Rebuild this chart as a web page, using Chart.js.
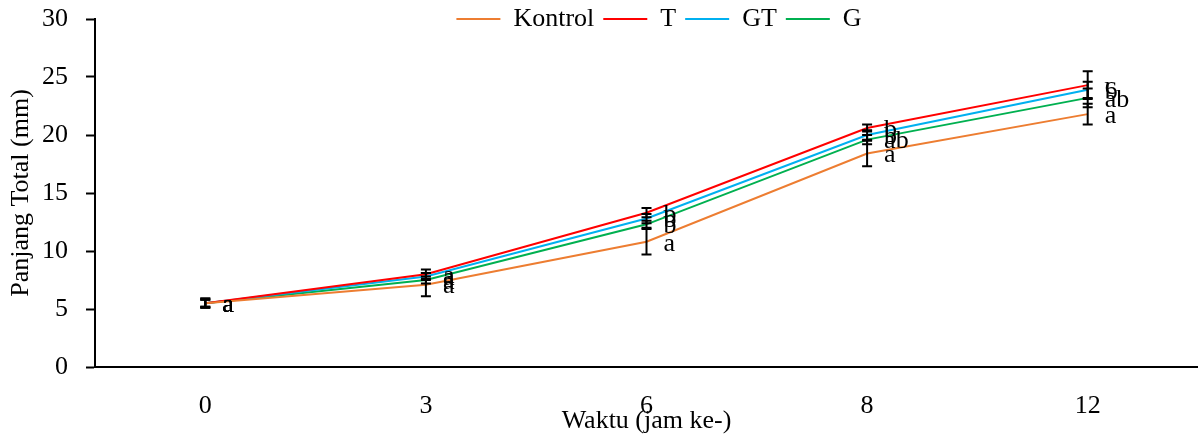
<!DOCTYPE html>
<html>
<head>
<meta charset="utf-8">
<script src="https://cdn.jsdelivr.net/npm/chart.js@4.4.1/dist/chart.umd.min.js"></script>
<style>
  html, body { margin: 0; padding: 0; background: #fff; }
  #wrap { width: 1198px; height: 439px; }
</style>
</head>
<body>
<div id="wrap"><canvas id="c" width="1198" height="439"></canvas></div>
<script>
// ---- data ----
const categories = ['0', '3', '6', '8', '12'];
const seriesNames = ['Kontrol', 'T', 'GT', 'G'];
const kontrolValues = [5.5, 7.1, 10.8, 18.4, 21.8];
const tValues       = [5.5, 8.0, 13.3, 20.6, 24.3];
const gtValues      = [5.5, 7.8, 12.8, 20.0, 23.9];
const gValues       = [5.5, 7.5, 12.3, 19.6, 23.2];
const kontrolErrors = [0.4, 1.0, 1.1, 1.1, 0.9];
const tErrors       = [0.4, 0.4, 0.4, 0.3, 1.2];
const gtErrors      = [0.3, 0.3, 0.4, 0.4, 0.7];
const gErrors       = [0.3, 0.3, 0.3, 0.4, 0.8];
const kontrolLetters = ['a', 'a', 'a', 'a', 'a'];
const tLetters       = ['a', 'a', 'b', 'b', 'c'];
const gtLetters      = ['a', 'a', 'b', 'b', 'b'];
const gLetters       = ['a', 'a', 'b', 'ab', 'ab'];
const yTicks = [0, 5, 10, 15, 20, 25, 30];

const FONT = "'Liberation Serif', 'Times New Roman', serif";
const FS = 26;
Chart.defaults.font.family = FONT;
Chart.defaults.color = '#000';

const colors = ['#ED7D31', '#FF0000', '#00B0F0', '#00B050'];
const allValues = [kontrolValues, tValues, gtValues, gValues];
const allErrors = [kontrolErrors, tErrors, gtErrors, gErrors];
const allLetters = [kontrolLetters, tLetters, gtLetters, gLetters];

const datasets = seriesNames.map((name, i) => ({
  label: name,
  data: allValues[i],
  errors: allErrors[i],
  letters: allLetters[i],
  borderColor: colors[i],
  backgroundColor: colors[i],
  borderWidth: 2,
  pointRadius: 0,
  pointHoverRadius: 0,
  tension: 0,
  fill: false
}));

const errorBarsPlugin = {
  id: 'errorBars',
  afterDatasetsDraw(chart) {
    const ctx = chart.ctx, xs = chart.scales.x, ys = chart.scales.y;
    ctx.save();
    ctx.strokeStyle = '#000';
    ctx.lineWidth = 2;
    chart.data.datasets.forEach(ds => {
      ds.data.forEach((v, i) => {
        const px = xs.getPixelForValue(i);
        const t = ys.getPixelForValue(v + ds.errors[i]);
        const b = ys.getPixelForValue(v - ds.errors[i]);
        ctx.beginPath();
        ctx.moveTo(px, t); ctx.lineTo(px, b);
        ctx.moveTo(px - 5, t); ctx.lineTo(px + 5, t);
        ctx.moveTo(px - 5, b); ctx.lineTo(px + 5, b);
        ctx.stroke();
      });
    });
    ctx.restore();
  }
};

const lettersPlugin = {
  id: 'letters',
  afterDatasetsDraw(chart) {
    const ctx = chart.ctx, xs = chart.scales.x, ys = chart.scales.y;
    ctx.save();
    ctx.fillStyle = '#000';
    ctx.font = FS + 'px ' + FONT;
    ctx.textAlign = 'left';
    ctx.textBaseline = 'middle';
    chart.data.datasets.forEach(ds => {
      ds.data.forEach((v, i) => {
        ctx.fillText(ds.letters[i], xs.getPixelForValue(i) + 17, ys.getPixelForValue(v) + 2);
      });
    });
    ctx.restore();
  }
};

const LEG_PAD = 9;
const legendTweak = {
  id: 'legendTweak',
  beforeLayout(chart) {
    const lg = chart.legend;
    if (lg && !lg._patched) {
      const f = lg.fit;
      lg.fit = function () { f.call(this); this.height = 19; };
      lg._patched = true;
    }
  },
  afterLayout(chart) {
    const lg = chart.legend;
    if (lg) {
      lg.top = 19 - FS / 2 - LEG_PAD;
      lg.bottom = 50;
      lg.left += 60;
      lg.right += 60;
    }
  }
};

new Chart(document.getElementById('c'), {
  type: 'line',
  data: { labels: categories, datasets },
  plugins: [errorBarsPlugin, lettersPlugin, legendTweak],
  options: {
    responsive: false,
    devicePixelRatio: 1,
    animation: false,
    layout: { padding: 0 },
    plugins: {
      tooltip: { enabled: false },
      legend: {
        display: true,
        position: 'top',
        labels: {
          font: { size: FS, family: FONT },
          color: '#000',
          usePointStyle: true,
          pointStyle: 'line',
          pointStyleWidth: 44,
          padding: LEG_PAD
        }
      }
    },
    scales: {
      x: {
        offset: true,
        grid: { display: false, drawTicks: false },
        border: { display: true, color: '#000', width: 2 },
        ticks: { font: { size: FS, family: FONT }, color: '#000', padding: 24, maxRotation: 0 },
        title: { display: true, text: 'Waktu (jam ke-)', font: { size: FS, family: FONT }, color: '#000', padding: { top: 0, bottom: 2 } },
        afterFit(scale) { scale.height = 72; }
      },
      y: {
        min: 0,
        max: 30,
        afterBuildTicks(scale) { scale.ticks = yTicks.map(v => ({ value: v })); },
        grid: { display: true, drawOnChartArea: false, drawTicks: true, tickLength: 9, tickWidth: 2, tickColor: '#000' },
        border: { display: true, color: '#000', width: 2 },
        ticks: { font: { size: FS, family: FONT }, color: '#000', padding: 18 },
        title: { display: true, text: 'Panjang Total (mm)', font: { size: FS, family: FONT }, color: '#000', padding: { top: 6, bottom: 0 } },
        afterFit(scale) { scale.width = 95; scale.paddingTop = 10; scale.paddingBottom = 10; }
      }
    }
  }
});
</script>
</body>
</html>
